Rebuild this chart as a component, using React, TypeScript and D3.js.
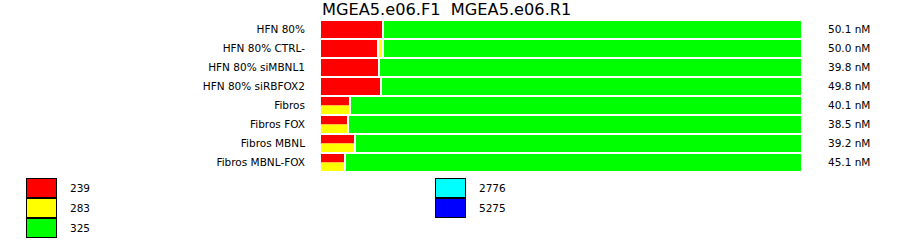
import React from "react";
import * as d3 from "d3";

const title = "MGEA5.e06.F1  MGEA5.e06.R1";
const categories = [
  "HFN 80%",
  "HFN 80% CTRL-",
  "HFN 80% siMBNL1",
  "HFN 80% siRBFOX2",
  "Fibros",
  "Fibros FOX",
  "Fibros MBNL",
  "Fibros MBNL-FOX",
];
// percent of each bar taken by each product size
const pct239 = [13.07, 12.03, 12.24, 12.66, 0, 0, 0, 0];
const pct283 = [0, 1.04, 0, 0, 0, 0, 0, 0];
// segment shared by 239 and 283 (drawn split top/bottom)
const pct239_283 = [0, 0, 0, 0, 6.22, 5.81, 7.26, 5.19];
const concentrations = ["50.1 nM", "50.0 nM", "39.8 nM", "49.8 nM", "40.1 nM", "38.5 nM", "39.2 nM", "45.1 nM"];

const legendLeft = ["239", "283", "325"];
const legendLeftColors = ["#ff0000", "#ffff00", "#00ff00"];
const legendRight = ["2776", "5275"];
const legendRightColors = ["#00ffff", "#0000ff"];

const FONT = "'DejaVu Sans', Verdana, sans-serif";

export default function App() {
  const x = d3.scaleLinear().domain([0, 100]).range([321, 803]);
  const bh = 17;
  const y = d3.scaleLinear().domain([0, categories.length]).range([21, 21 + 19 * categories.length]);
  const rowY = (i: number) => y(i);

  const rects: React.ReactNode[] = [];
  categories.forEach((c, i) => {
    const top = rowY(i);
    let start = 0;
    const seg = (w: number, color: string, key: string, half?: "top" | "bottom") => {
      if (w <= 0) return;
      const x0 = x(start);
      const x1 = x(start + w) - 2;
      rects.push(
        <rect
          key={key}
          x={x0}
          y={half === "bottom" ? top + bh / 2 : top}
          width={Math.max(0, x1 - x0)}
          height={half ? bh / 2 : bh}
          fill={color}
        />
      );
    };
    if (pct239_283[i] > 0) {
      seg(pct239_283[i], "#ff0000", `m1-${i}`, "top");
      seg(pct239_283[i], "#ffff00", `m2-${i}`, "bottom");
      start += pct239_283[i];
    }
    seg(pct239[i], "#ff0000", `r-${i}`);
    start += pct239[i];
    seg(pct283[i], "#ffff00", `y-${i}`);
    start += pct283[i];
    seg(100 - start, "#00ff00", `g-${i}`);
  });

  return (
    <svg
      width={900}
      height={242}
      style={{ position: "absolute", left: 0, top: 0, display: "block", background: "#fff" }}
      fontFamily={FONT}
    >
      <rect x={0} y={0} width={900} height={242} fill="#fff" />
      <text x={322} y={15} fontSize={16.2} fill="#000" style={{ whiteSpace: "pre" }} xmlSpace="preserve">
        {title}
      </text>
      {rects}
      {categories.map((c, i) => (
        <text key={c} x={305} y={rowY(i) + bh / 2} dy="0.35em" textAnchor="end" fontSize={10.5} fill="#000">
          {c}
        </text>
      ))}
      {concentrations.map((c, i) => (
        <text key={"c" + i} x={828} y={rowY(i) + bh / 2} dy="0.35em" fontSize={10.5} fill="#000">
          {c}
        </text>
      ))}
      {legendLeft.map((l, i) => (
        <g key={"ll" + i}>
          <rect x={26.5} y={178.5 + i * 20} width={30} height={19} fill={legendLeftColors[i]} stroke="#000" strokeWidth={1} />
          <text x={70} y={188 + i * 20} dy="0.35em" fontSize={10.5} fill="#000">
            {l}
          </text>
        </g>
      ))}
      {legendRight.map((l, i) => (
        <g key={"lr" + i}>
          <rect x={435.5} y={178.5 + i * 20} width={30} height={19} fill={legendRightColors[i]} stroke="#000" strokeWidth={1} />
          <text x={479} y={188 + i * 20} dy="0.35em" fontSize={10.5} fill="#000">
            {l}
          </text>
        </g>
      ))}
    </svg>
  );
}
